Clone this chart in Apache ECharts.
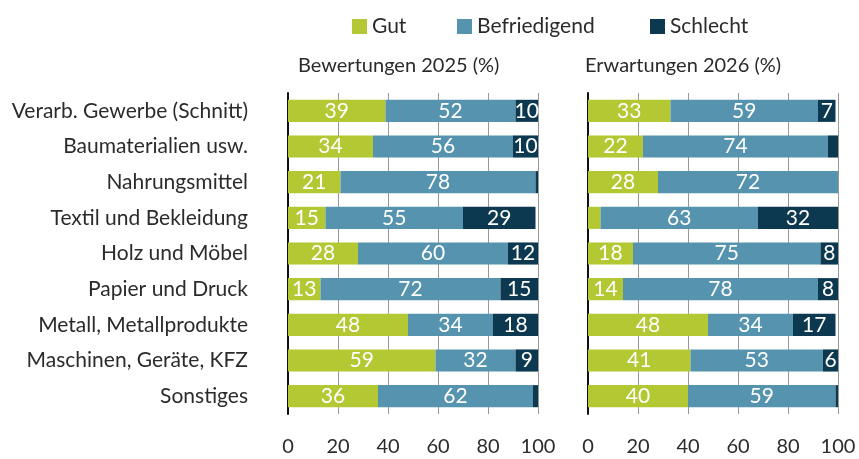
<!DOCTYPE html>
<html>
<head>
<meta charset="utf-8">
<script src="https://cdn.jsdelivr.net/npm/echarts@6/dist/echarts.min.js"></script>
<style>
  html, body { margin: 0; padding: 0; background: #fff; }
  #chart { width: 859px; height: 459px; }
</style>
</head>
<body>
<div id="chart"></div>
<script>
// Branchen (von oben nach unten)
const branchen = [
  'Verarb. Gewerbe (Schnitt)',
  'Baumaterialien usw.',
  'Nahrungsmittel',
  'Textil und Bekleidung',
  'Holz und Möbel',
  'Papier und Druck',
  'Metall, Metallprodukte',
  'Maschinen, Geräte, KFZ',
  'Sonstiges'
]

// Bewertungen 2025 (%)
const gut2025 = [39, 34, 21, 15, 28, 13, 48, 59, 36]
const befr2025 = [52, 56, 78, 55, 60, 72, 34, 32, 62]
const schlecht2025 = [10, 10, 1, 29, 12, 15, 18, 9, 2]

// Erwartungen 2026 (%)
const gut2026 = [33, 22, 28, 5, 18, 14, 48, 41, 40]
const befr2026 = [59, 74, 72, 63, 75, 78, 34, 53, 59]
const schlecht2026 = [7, 4, 0, 32, 8, 8, 17, 6, 1]

const FONT = 'Lato'
const TEXT = '#2b2b2b'
const COLORS = { gut: '#b3c833', befr: '#5593ae', schlecht: '#0c3950' }

const chart = echarts.init(document.getElementById('chart'))

// kleine Werte (<= 5) bekommen keine Beschriftung
const labelCfg = {
  show: true,
  position: 'inside',
  color: '#fff',
  fontFamily: FONT,
  fontSize: 21,
  formatter: (p) => (p.value <= 5 ? '' : p.value)
}

function makeSeries(name, data, color, idx) {
  return {
    name: name,
    type: 'bar',
    stack: 'g' + idx,
    xAxisIndex: idx,
    yAxisIndex: idx,
    data: data,
    barCategoryGap: '38%',
    itemStyle: { color: color },
    label: labelCfg,
    emphasis: { disabled: true }
  }
}

function xAxisCfg(idx) {
  return {
    type: 'value',
    gridIndex: idx,
    min: 0,
    max: 100,
    interval: 20,
    axisLine: { show: false },
    axisTick: { show: false },
    axisLabel: { fontFamily: FONT, fontSize: 20, color: TEXT, margin: 23 },
    splitLine: { show: true, lineStyle: { color: '#999', width: 1 } }
  }
}

function yAxisCfg(idx) {
  return {
    type: 'category',
    gridIndex: idx,
    inverse: true,
    data: branchen,
    axisLine: { show: true, lineStyle: { color: '#111', width: 2 } },
    axisTick: { show: false },
    axisLabel: {
      show: idx === 0,
      fontFamily: FONT,
      fontSize: 21,
      color: TEXT,
      margin: 40
    }
  }
}

// eine Legende je Eintrag, damit die Abstände passen
function legendCfg(name, left) {
  return {
    data: [name],
    left: left,
    top: 11,
    itemWidth: 15,
    itemHeight: 15,
    icon: 'rect',
    textStyle: { fontFamily: FONT, fontSize: 21, color: TEXT }
  }
}

chart.setOption({
  animation: false,
  legend: [
    legendCfg('Gut', 347),
    legendCfg('Befriedigend', 452),
    legendCfg('Schlecht', 645)
  ],
  title: [
    {
      text: 'Bewertungen 2025 (%)',
      left: 293,
      top: 51,
      textStyle: { fontFamily: FONT, fontSize: 20, fontWeight: 'normal', color: TEXT }
    },
    {
      text: 'Erwartungen 2026 (%)',
      left: 580,
      top: 51,
      textStyle: { fontFamily: FONT, fontSize: 20, fontWeight: 'normal', color: TEXT }
    }
  ],
  grid: [
    { left: 288, width: 250, top: 93, height: 321 },
    { left: 588, width: 250, top: 93, height: 321 }
  ],
  xAxis: [xAxisCfg(0), xAxisCfg(1)],
  yAxis: [yAxisCfg(0), yAxisCfg(1)],
  series: [
    makeSeries('Gut', gut2025, COLORS.gut, 0),
    makeSeries('Befriedigend', befr2025, COLORS.befr, 0),
    makeSeries('Schlecht', schlecht2025, COLORS.schlecht, 0),
    makeSeries('Gut', gut2026, COLORS.gut, 1),
    makeSeries('Befriedigend', befr2026, COLORS.befr, 1),
    makeSeries('Schlecht', schlecht2026, COLORS.schlecht, 1)
  ]
})
</script>
</body>
</html>
